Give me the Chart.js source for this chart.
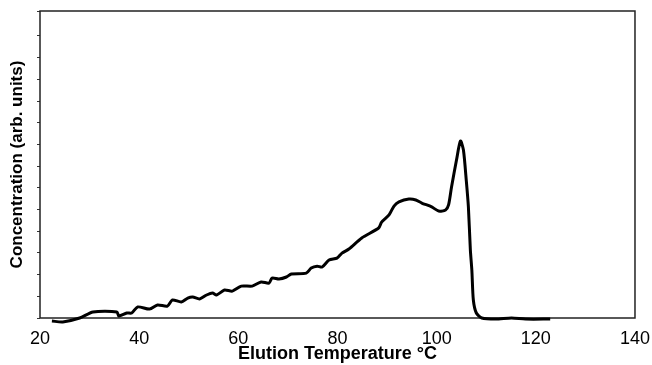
<!DOCTYPE html>
<html>
<head>
<meta charset="utf-8">
<script src="https://cdn.jsdelivr.net/npm/chart.js@4"></script>
<style>
  body { margin: 0; background: #fff; }
</style>
</head>
<body>
<canvas id="graf" width="652" height="365"></canvas>
<script>
// elution temperature (°C) and concentration
const temps = [22.4, 24.6, 28.0, 30.7, 35.5, 35.9, 37.5, 38.5, 39.7, 42.1, 43.7, 45.7, 46.7, 48.5, 49.8, 50.8,
  52.2, 53.6, 54.8, 55.6, 57.2, 58.8, 60.6, 62.8, 64.6, 66.2, 66.8, 68.2, 69.7, 70.7, 73.7, 74.7, 75.9, 76.9,
  78.3, 79.9, 80.9, 82.3, 84.9, 88.3, 88.9, 90.4, 91.4, 92.4, 94.4, 95.8, 97.0, 99.0, 100.4, 101.8, 102.4,
  103.0, 104.0, 104.8, 105.4, 106.0, 106.4, 106.8, 107.1, 107.4, 108.0, 109.1, 111.9, 115.1, 117.9, 122.9]
const conc = [-0.14, -0.18, 0, 0.28, 0.28, 0.09, 0.23, 0.23, 0.51, 0.41, 0.60, 0.55, 0.83, 0.74, 0.92, 0.97,
  0.88, 1.06, 1.15, 1.06, 1.29, 1.24, 1.47, 1.47, 1.66, 1.61, 1.84, 1.80, 1.89, 2.03, 2.07, 2.30, 2.39, 2.35,
  2.67, 2.76, 2.99, 3.18, 3.69, 4.15, 4.42, 4.75, 5.16, 5.35, 5.48, 5.44, 5.30, 5.12, 4.93, 4.98, 5.21,
  6.04, 7.28, 8.16, 7.74, 6.27, 5.12, 3.13, 2.2, 0.83, 0.23, 0, -0.05, 0, -0.05, -0.05]
const xTicks = [20, 40, 60, 80, 100, 120, 140]

const pontos = temps.map((t, i) => ({ x: t, y: conc[i] }))

const moldura = {
    id: 'moldura',
    beforeDatasetsDraw(chart) {
        const a = chart.chartArea
        const ctx = chart.ctx
        ctx.save()
        ctx.strokeStyle = '#222'
        ctx.lineWidth = 1.5
        ctx.strokeRect(a.left, a.top, a.right - a.left, a.bottom - a.top)
        ctx.restore()
    }
}

new Chart(document.getElementById("graf"), {
    type: 'line',
    data: {
        datasets: [{
            data: pontos,
            borderColor: '#000',
            borderWidth: 3,
            pointRadius: 0,
            tension: 0.25,
            clip: 6,
            fill: false
        }]
    },
    options: {
        responsive: false,
        animation: false,
        layout: { padding: { top: 11, right: 15, left: 0, bottom: 0 } },
        plugins: {
            legend: { display: false },
            tooltip: { enabled: false }
        },
        scales: {
            x: {
                type: 'linear',
                min: 20,
                max: 140,
                afterBuildTicks: axis => { axis.ticks = xTicks.map(v => ({ value: v })) },
                afterFit: axis => { axis.height = 47 },
                grid: { display: false },
                border: { display: false },
                ticks: {
                    color: '#000',
                    padding: 2,
                    font: { family: 'Liberation Sans, Arial', size: 18 }
                },
                title: {
                    display: true,
                    text: 'Elution Temperature °C',
                    color: '#000',
                    padding: { top: 0, bottom: 0 },
                    font: { family: 'Liberation Sans, Arial', size: 18, weight: 'bold' }
                }
            },
            y: {
                min: 0,
                max: 14.15,
                afterFit: axis => { axis.width = 40 },
                grid: { drawOnChartArea: false, tickLength: 3, color: '#333' },
                border: { display: false },
                ticks: { stepSize: 1, display: true, callback: () => '' },
                title: {
                    display: true,
                    text: 'Concentration (arb. units)',
                    color: '#000',
                    padding: { top: 7, bottom: 0 },
                    font: { family: 'Liberation Sans, Arial', size: 17, weight: 'bold' }
                }
            }
        }
    },
    plugins: [moldura]
})
</script>
</body>
</html>
